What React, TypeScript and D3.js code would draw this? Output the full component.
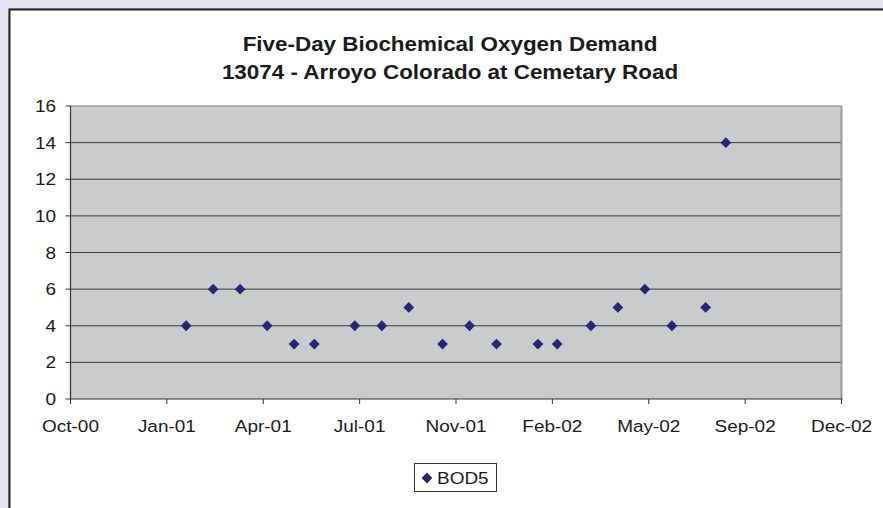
import React from "react";
import * as d3 from "d3";

const SAMPLE_DATES = [
  "2001-01-29", "2001-02-26", "2001-03-26", "2001-04-23", "2001-05-21", "2001-06-11",
  "2001-07-23", "2001-08-20", "2001-09-17", "2001-10-22", "2001-11-19", "2001-12-17",
  "2002-01-29", "2002-02-18", "2002-03-25", "2002-04-22", "2002-05-20", "2002-06-17",
  "2002-07-22", "2002-08-12",
];
const BOD5 = [4, 6, 6, 4, 3, 3, 4, 4, 5, 3, 4, 3, 3, 3, 4, 5, 6, 4, 5, 14];
const Y_TICKS = [0, 2, 4, 6, 8, 10, 12, 14, 16];
const X_START = "2000-10-01";
const X_TICK_STEP_DAYS = 100;
const X_TICK_COUNT = 9;
const TITLE_LINES = [
  "Five-Day Biochemical Oxygen Demand",
  "13074 - Arroyo Colorado at Cemetary Road",
];
const SERIES_NAME = "BOD5";

const W = 883;
const H = 508;
const PLOT = { left: 70.5, right: 841.5, top: 106, bottom: 399 };
const SX = 1.15;
const FONT = "'Liberation Sans', Arial, sans-serif";

export default function App() {
  const parse = d3.utcParse("%Y-%m-%d");
  const start = parse(X_START) as Date;
  const xTicks = d3.range(X_TICK_COUNT).map((i) => d3.utcDay.offset(start, i * X_TICK_STEP_DAYS));
  const x = d3
    .scaleUtc()
    .domain([start, xTicks[xTicks.length - 1]])
    .range([PLOT.left, PLOT.right]);
  const y = d3.scaleLinear().domain([0, 16]).range([PLOT.bottom, PLOT.top]);
  const fmt = d3.utcFormat("%b-%y");
  const diamond = d3.symbol(d3.symbolSquare, 58)() as string;
  const data = SAMPLE_DATES.map((d, i) => ({ date: parse(d) as Date, v: BOD5[i] }));
  const markerColor = "#262673";

  return (
    <svg
      width={W}
      height={H}
      style={{ position: "absolute", left: 0, top: 0, display: "block" }}
      fontFamily={FONT}
    >
      <rect x={0} y={0} width={W} height={H} fill="#E7E3F1" />
      <rect x={9} y={9} width={W + 20} height={H + 20} fill="#FFFFFF" stroke="#9a9a9a" strokeWidth={1} />
      <rect x={9.5} y={9.5} width={W + 20} height={H + 20} fill="none" stroke="#222" strokeWidth={2} />

      {TITLE_LINES.map((t, i) => (
        <text
          key={i}
          transform={`translate(450,${51 + i * 28}) scale(${SX},1)`}
          textAnchor="middle"
          fontSize={19.5}
          fontWeight="bold"
          fill="#1a1a1a"
        >
          {t}
        </text>
      ))}

      <rect
        x={PLOT.left}
        y={PLOT.top}
        width={PLOT.right - PLOT.left}
        height={PLOT.bottom - PLOT.top}
        fill="#CACBCD"
      />
      {Y_TICKS.filter((v) => v > 0 && v < 16).map((v) => (
        <line key={v} x1={PLOT.left} x2={PLOT.right} y1={y(v)} y2={y(v)} stroke="#3a3a3a" strokeWidth={1} />
      ))}
      <line x1={PLOT.left} x2={PLOT.right} y1={PLOT.top} y2={PLOT.top} stroke="#9a9a9a" strokeWidth={1.5} />
      <line x1={PLOT.right} x2={PLOT.right} y1={PLOT.top} y2={PLOT.bottom} stroke="#9a9a9a" strokeWidth={2} />
      <line x1={PLOT.left} x2={PLOT.left} y1={PLOT.top} y2={PLOT.bottom + 0.5} stroke="#333" strokeWidth={1.2} />
      <line x1={PLOT.left} x2={PLOT.right + 1} y1={PLOT.bottom} y2={PLOT.bottom} stroke="#333" strokeWidth={1.2} />

      {Y_TICKS.map((v) => (
        <g key={v}>
          <line x1={PLOT.left - 5} x2={PLOT.left} y1={y(v)} y2={y(v)} stroke="#333" strokeWidth={1} />
          <text
            transform={`translate(56,${y(v) + 6}) scale(${SX},1)`}
            textAnchor="end"
            fontSize={16.5}
            fill="#1a1a1a"
          >
            {v}
          </text>
        </g>
      ))}

      {xTicks.map((t, i) => (
        <g key={i}>
          <line x1={x(t)} x2={x(t)} y1={PLOT.bottom} y2={PLOT.bottom + 5} stroke="#333" strokeWidth={1} />
          <text
            transform={`translate(${x(t)},432) scale(${SX},1)`}
            textAnchor="middle"
            fontSize={16.5}
            fill="#1a1a1a"
          >
            {fmt(t)}
          </text>
        </g>
      ))}

      {data.map((d, i) => (
        <path
          key={i}
          d={diamond}
          transform={`translate(${x(d.date)},${y(d.v)}) rotate(45)`}
          fill={markerColor}
        />
      ))}

      <rect x={414.5} y={463.5} width={82} height={28} fill="#fff" stroke="#333" strokeWidth={1} />
      <path d={diamond} transform="translate(427,478) rotate(45)" fill={markerColor} />
      <text transform={`translate(437,484) scale(${SX},1)`} fontSize={16.5} fill="#1a1a1a">
        {SERIES_NAME}
      </text>
    </svg>
  );
}
